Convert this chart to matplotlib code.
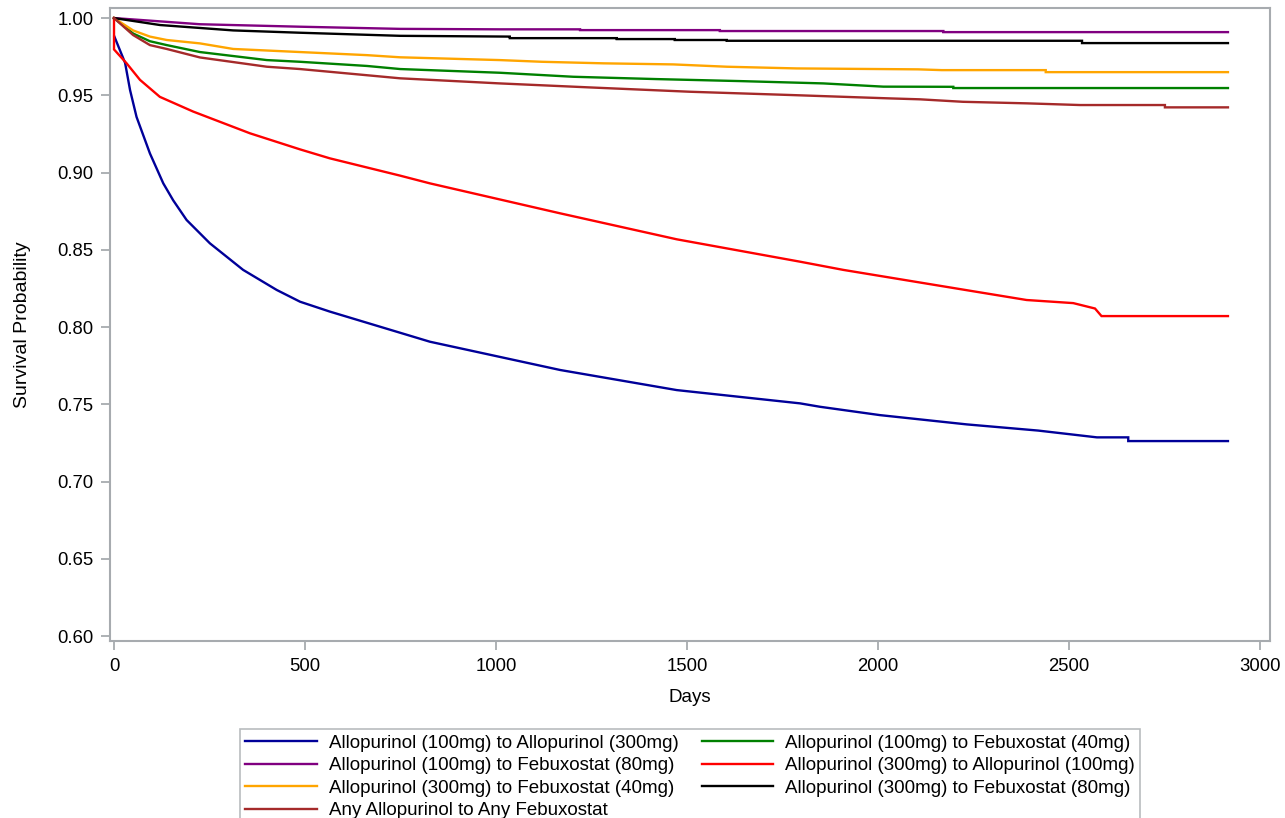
import matplotlib
matplotlib.use("Agg")
import matplotlib.pyplot as plt

plt.rcParams['font.family'] = ['Liberation Sans', 'DejaVu Sans']

# ---- data ----
labels = [
    "Allopurinol (100mg) to Allopurinol (300mg)",
    "Allopurinol (100mg) to Febuxostat (40mg)",
    "Allopurinol (100mg) to Febuxostat (80mg)",
    "Allopurinol (300mg) to Allopurinol (100mg)",
    "Allopurinol (300mg) to Febuxostat (40mg)",
    "Allopurinol (300mg) to Febuxostat (80mg)",
    "Any Allopurinol to Any Febuxostat",
]
colors = ["#000099", "#008000", "#800080", "#FF0000", "#FFA500", "#000000", "#A52A2A"]

a100_a300_days = [1, 29, 42, 59, 94, 129, 155, 190, 251, 338, 426, 487, 565, 827, 1168, 1473,
                  1796, 1848, 2005, 2232, 2419, 2573, 2655, 2655, 2916]
a100_a300_surv = [0.988, 0.971, 0.9534, 0.936, 0.9124, 0.893, 0.882, 0.8693, 0.8542, 0.837, 0.824,
                  0.8164, 0.810, 0.7905, 0.7722, 0.7592, 0.7506, 0.7484, 0.743, 0.737, 0.733,
                  0.7286, 0.7286, 0.7262, 0.7262]

a100_f40_days = [0, 50, 94, 138, 225, 400, 487, 662, 749, 1010, 1202, 1420, 1639, 1857, 2014,
                 2197, 2197, 2916]
a100_f40_surv = [1.0, 0.990, 0.985, 0.9825, 0.978, 0.9728, 0.9717, 0.969, 0.967, 0.9646, 0.962,
                 0.9605, 0.9592, 0.9577, 0.9556, 0.9555, 0.9547, 0.9547]

a100_f80_days = [0, 225, 487, 749, 1010, 1220, 1220, 1586, 1586, 2171, 2171, 2916]
a100_f80_surv = [1.0, 0.996, 0.9944, 0.993, 0.9927, 0.9927, 0.9922, 0.9922, 0.9916, 0.9916,
                 0.9909, 0.9909]

a300_a100_days = [0, 0, 33, 68, 120, 207, 356, 487, 565, 749, 827, 1168, 1473, 1796, 1909, 2118,
                  2241, 2389, 2511, 2568, 2585, 2916]
a300_a100_surv = [1.0, 0.9797, 0.9707, 0.960, 0.949, 0.9395, 0.9254, 0.915, 0.9092, 0.898, 0.893,
                  0.8736, 0.8568, 0.8423, 0.837, 0.8285, 0.8235, 0.8175, 0.8155, 0.812, 0.8071,
                  0.8071]

a300_f40_days = [0, 50, 94, 138, 225, 312, 487, 662, 749, 1010, 1120, 1281, 1464, 1604, 1787,
                 2105, 2167, 2439, 2439, 2916]
a300_f40_surv = [1.0, 0.992, 0.988, 0.9858, 0.9836, 0.980, 0.978, 0.976, 0.9746, 0.9728, 0.9717,
                 0.9707, 0.970, 0.9685, 0.9674, 0.9668, 0.9663, 0.9663, 0.965, 0.965]

a300_f80_days = [0, 120, 312, 487, 749, 1036, 1036, 1316, 1316, 1468, 1468, 1604, 1604, 2534,
                 2534, 2916]
a300_f80_surv = [1.0, 0.9955, 0.992, 0.9905, 0.9885, 0.988, 0.987, 0.987, 0.9864, 0.9864, 0.9858,
                 0.9858, 0.9853, 0.9853, 0.9838, 0.9838]

any_any_days = [0, 50, 94, 138, 225, 400, 487, 662, 749, 1010, 1246, 1508, 1770, 2031, 2110,
                2222, 2389, 2529, 2751, 2751, 2916]
any_any_surv = [1.0, 0.989, 0.9825, 0.980, 0.9745, 0.9685, 0.967, 0.963, 0.961, 0.9577, 0.9551,
                0.9523, 0.9502, 0.948, 0.9474, 0.9458, 0.9448, 0.9437, 0.9437, 0.9422, 0.9422]

series_days = [a100_a300_days, a100_f40_days, a100_f80_days, a300_a100_days,
               a300_f40_days, a300_f80_days, any_any_days]
series_surv = [a100_a300_surv, a100_f40_surv, a100_f80_surv, a300_a100_surv,
               a300_f40_surv, a300_f80_surv, any_any_surv]

x_ticks = [0, 500, 1000, 1500, 2000, 2500, 3000]
y_ticks = [0.60, 0.65, 0.70, 0.75, 0.80, 0.85, 0.90, 0.95, 1.00]

# ---- figure ----
fig = plt.figure(figsize=(12.85, 8.18), dpi=100)
ax = fig.add_axes([0.0856, 0.2164, 0.9027, 0.7738])

handles = []
for d, s, c, lab in zip(series_days, series_surv, colors, labels):
    h, = ax.plot(d, s, color=c, lw=1.7, label=lab, solid_joinstyle='miter')
    handles.append(h)

ax.set_xlim(-10.5, 3026)
ax.set_ylim(0.5968, 1.0065)
ax.set_xticks(x_ticks)
ax.set_xticklabels([str(t) for t in x_ticks])
ax.set_yticks(y_ticks)
ax.set_yticklabels([f"{t:.2f}" for t in y_ticks])

spine_col = "#a7abaf"
for sp in ax.spines.values():
    sp.set_color(spine_col)
    sp.set_linewidth(1.5)
ax.tick_params(axis='both', colors=spine_col, labelcolor='black', labelsize=13.3,
               length=6.5, width=1.3, direction='out')
ax.tick_params(axis='x', pad=6)
ax.tick_params(axis='y', pad=5.5)

ax.set_xlabel("Days", fontsize=13.5)
ax.xaxis.set_label_coords(0.5, -0.090)
ax.xaxis.label.set_verticalalignment('center')
ax.set_ylabel("Survival Probability", fontsize=14)
ax.yaxis.set_label_coords(-0.075, 0.5)
ax.yaxis.label.set_verticalalignment('center')

# legend: row-major order in 2 columns -> reorder for matplotlib's column-major fill
order = [0, 2, 4, 6, 1, 3, 5]
leg = fig.legend([handles[i] for i in order], [labels[i] for i in order],
                 loc='upper center', bbox_to_anchor=(0.537, 0.1088), ncol=2,
                 fontsize=13.5, frameon=True, fancybox=False, handlelength=3.8,
                 handletextpad=0.64, columnspacing=1.25, labelspacing=0.29,
                 borderpad=0.3, borderaxespad=0.0)
leg.get_frame().set_edgecolor(spine_col)
leg.get_frame().set_linewidth(1.2)

fig.savefig("out.png", dpi=100)
